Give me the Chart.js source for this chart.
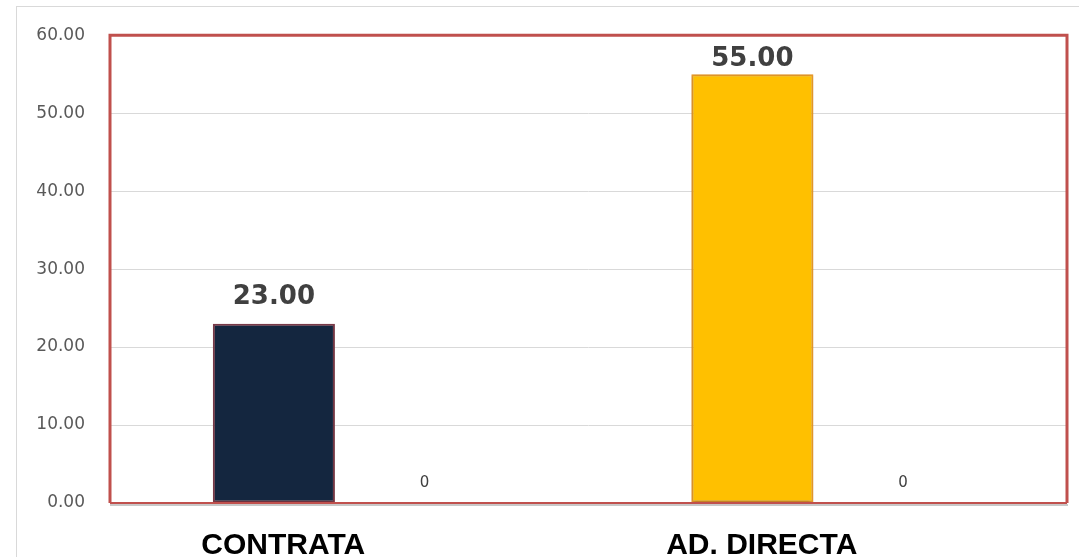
<!DOCTYPE html>
<html>
<head>
<meta charset="utf-8">
<script src="https://cdn.jsdelivr.net/npm/chart.js@4"></script>
<style>
  html, body { margin: 0; padding: 0; background: #ffffff; }
  #wrap { position: relative; width: 1079px; height: 557px; }
</style>
</head>
<body>
<div id="wrap"><canvas id="c" width="1079" height="557"></canvas></div>
<script>
const categories = ['CONTRATA', 'AD. DIRECTA'];
const seriesMain = [23, 55];
const seriesZero = [0, 0];
const yTicks = [0, 10, 20, 30, 40, 50, 60];

const frameColor = '#C0504D';
const gridColor = '#D9D9D9';

const decorPlugin = {
  id: 'decor',
  beforeDraw(chart) {
    const ctx = chart.ctx;
    ctx.save();
    ctx.strokeStyle = '#D9D9D9';
    ctx.lineWidth = 1;
    ctx.strokeRect(16.5, 6.5, chart.width + 20, chart.height + 20);
    ctx.restore();
  },
  beforeDatasetsDraw(chart) {
    const ctx = chart.ctx;
    const a = chart.chartArea;
    ctx.save();
    ctx.strokeStyle = '#C8C8C8';
    ctx.lineWidth = 2;
    ctx.beginPath();
    ctx.moveTo(a.left, a.bottom + 2);
    ctx.lineTo(a.right + 1, a.bottom + 2);
    ctx.stroke();
    ctx.restore();
  },
  beforeDatasetDraw(chart) {
    const ctx = chart.ctx;
    ctx.save();
    ctx.shadowColor = 'rgba(0,0,0,0.25)';
    ctx.shadowBlur = 3;
    ctx.shadowOffsetY = 1;
  },
  afterDatasetDraw(chart) {
    chart.ctx.restore();
  },
  afterDatasetsDraw(chart) {
    const ctx = chart.ctx;
    const a = chart.chartArea;
    ctx.save();
    ctx.strokeStyle = frameColor;
    ctx.lineWidth = 3;
    ctx.beginPath();
    ctx.moveTo(a.left, a.bottom);
    ctx.lineTo(a.left, a.top);
    ctx.lineTo(a.right, a.top);
    ctx.lineTo(a.right, a.bottom);
    ctx.stroke();
    ctx.lineWidth = 2;
    ctx.beginPath();
    ctx.moveTo(a.left, a.bottom);
    ctx.lineTo(a.right, a.bottom);
    ctx.stroke();
    chart.data.datasets.forEach((ds, di) => {
      const meta = chart.getDatasetMeta(di);
      meta.data.forEach((el, i) => {
        const v = ds.data[i];
        const txt = ds.labelDecimals != null ? v.toFixed(ds.labelDecimals) : String(v);
        ctx.font = ds.labelFont;
        ctx.fillStyle = '#404040';
        ctx.textAlign = 'center';
        ctx.textBaseline = 'bottom';
        const y = Math.max(el.y - ds.labelGap, a.top + 37);
        ctx.fillText(txt, el.x, y);
      });
    });
    ctx.restore();
  }
};

new Chart(document.getElementById('c'), {
  type: 'bar',
  data: {
    labels: categories,
    datasets: [
      {
        label: 'Serie 1',
        data: seriesMain,
        backgroundColor: ['#14263F', '#FFC000'],
        borderColor: ['#7A3A48', '#E99A2A'],
        borderWidth: 2,
        borderSkipped: false,
        labelDecimals: 2,
        labelFont: 'bold 26px "DejaVu Sans"',
        labelGap: 13
      },
      {
        label: 'Serie 2',
        data: seriesZero,
        backgroundColor: '#A5A5A5',
        borderWidth: 0,
        labelDecimals: null,
        labelFont: '15px "DejaVu Sans"',
        labelGap: 12
      }
    ]
  },
  options: {
    responsive: false,
    animation: false,
    devicePixelRatio: 1,
    categoryPercentage: 0.63,
    barPercentage: 0.81,
    layout: { padding: { top: 28, right: 12, left: 0, bottom: 0 } },
    plugins: {
      legend: { display: false },
      tooltip: { enabled: false }
    },
    scales: {
      x: {
        grid: { display: false, drawTicks: false },
        border: { display: false },
        ticks: {
          color: '#000000',
          font: { family: '"Liberation Sans"', size: 30, weight: 'bold' },
          padding: 25,
          labelOffset: -66,
          maxRotation: 0,
          autoSkip: false
        },
        afterFit(scale) { scale.height = 54; }
      },
      y: {
        min: yTicks[0],
        max: yTicks[yTicks.length - 1],
        afterBuildTicks(scale) { scale.ticks = yTicks.map(v => ({ value: v })); },
        grid: { color: gridColor, lineWidth: 1, drawTicks: false },
        border: { display: false },
        ticks: {
          color: '#595959',
          font: { family: '"DejaVu Sans"', size: 17 },
          padding: 25,
          callback: v => Number(v).toFixed(2)
        },
        afterFit(scale) { scale.width = 110; }
      }
    }
  },
  plugins: [decorPlugin]
});
</script>
</body>
</html>
